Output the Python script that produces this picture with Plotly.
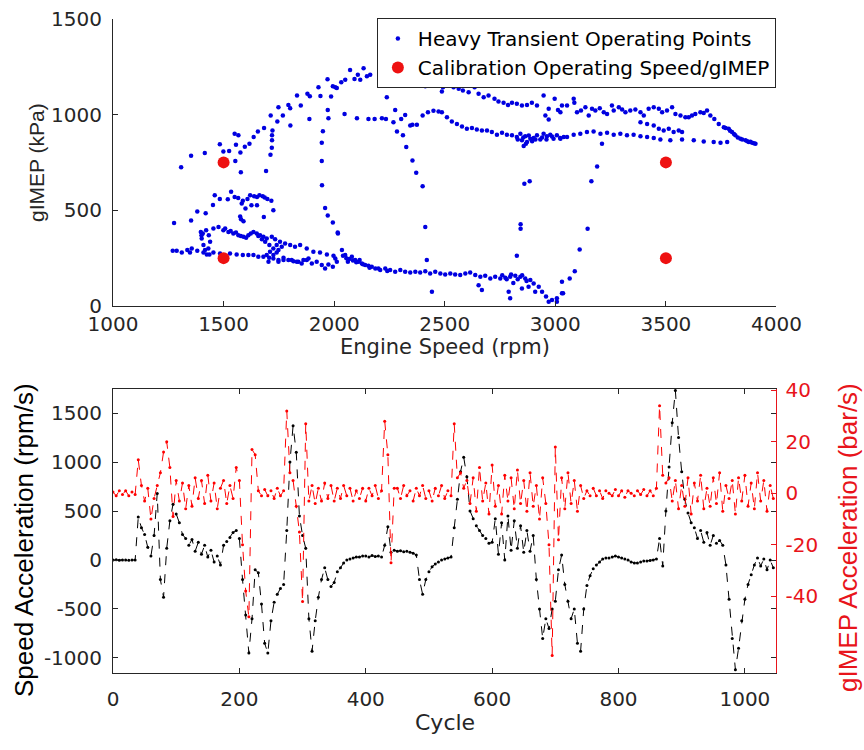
import plotly.graph_objects as go

# ---------------- Top panel data ----------------
speed_rpm = [
    # upper rising arc
    1308, 1353, 1415, 1483, 1499, 1525, 1553, 1550, 1567, 1556, 1578, 1576, 1596, 1617, 1636, 1655, 1683, 1692,
    1712, 1718, 1719, 1719, 1721, 1713, 1743, 1748, 1768, 1793, 1801, 1802, 1832, 1849, 1879, 1890, 1888, 1929,
    1938, 1970, 1971, 1974, 1949, 1944, 1944, 1945, 1959, 1971, 1994, 1986, 1994, 2012, 2016,
    # low-load upper cluster
    1276, 1353, 1381, 1400, 1419, 1460, 1452, 1483, 1519, 1534, 1550, 1566, 1587, 1608, 1620, 1638, 1651, 1662,
    1677, 1686, 1698, 1716, 1582, 1599, 1626, 1651, 1682, 1725, 1575, 1579, 1590,
    # dense band
    1397, 1401, 1409, 1416, 1424, 1431, 1439, 1433, 1421, 1406,
    1454, 1477, 1499, 1522, 1544, 1567, 1590, 1612, 1635, 1650, 1665, 1680, 1695, 1718, 1733, 1755, 1778, 1801,
    1823, 1846, 1876, 1906, 1936, 1967, 1997,
    1507, 1532, 1556, 1578, 1602, 1623, 1657, 1673, 1688, 1707, 1725, 1740, 1748, 1763, 1710, 1695, 1725, 1740,
    1771, 1793, 1816, 1838, 1861, 1884, 1748, 1703,
    # lower line
    1270, 1288, 1311, 1336, 1348, 1356, 1381, 1409, 1436, 1454, 1484, 1529, 1559, 1587, 1612, 1635, 1657, 1680,
    1706, 1725, 1748, 1771, 1808, 1831, 1853, 1876, 1899, 1921, 1944, 1959, 1974, 1994, 2012,
    # high-load arc 2000-3000
    2005, 2032, 2050, 2072, 2092, 2107, 2118, 2133, 2148, 2163, 2223, 2231, 2284, 2354, 2394, 2412, 2437, 2457,
    2487, 2492, 2517, 2540, 2563, 2582, 2608, 2635, 2653, 2676, 2698, 2725, 2743, 2766, 2786, 2804, 2826, 2849,
    2872, 2894, 2917, 2947, 2970, 2997, 3012, 3030, 2955, 2970,
    # middle band
    2047, 2103, 2155, 2183, 2216, 2234, 2268, 2284, 2321, 2344, 2354, 2374, 2400, 2424, 2449, 2472, 2487,
    2510, 2532, 2555, 2578, 2600, 2623, 2645, 2668, 2691, 2713, 2736, 2759, 2781, 2804, 2826, 2842, 2849, 2864,
    2872, 2887, 2902, 2917, 2932, 2947, 2962, 2977, 2992, 3007, 3022, 3038, 2857, 2867,
    2830, 2855, 2880, 2895, 2910, 2940, 2960, 2985,
    # descending / isolated points
    2238, 2276, 2303, 2311, 2326, 2354, 2371, 2400, 2412, 2419, 2017, 2860, 2884, 2843, 2843, 2826,
    # low-load band 2000-3000
    2005, 2035, 2050, 2062, 2080, 2095, 2110, 2125, 2140, 2155, 2170, 2186, 2208, 2231, 2253, 2276, 2299, 2321,
    2344, 2367, 2389, 2412, 2434, 2457, 2480, 2502, 2525, 2547, 2570, 2593, 2615, 2638, 2661, 2683, 2706, 2728,
    2751, 2774, 2796, 2819, 2842, 2864, 2887, 2902, 2925, 2940, 2958, 2970, 3007, 3030,
    2040, 2055, 2068, 2085, 2100, 2115, 2130, 2160, 2200, 2240, 2760, 2780, 2800, 2830, 2850, 2870, 2810,
    2442, 2653, 2668, 2789, 2796, 2849, 2879, 2909, 2985, 3007,
    # high-speed upper band
    3023, 3053, 3083, 3086, 3098, 3116, 3136, 3151, 3166, 3181, 3201, 3219, 3234, 3256, 3264, 3287, 3302, 3317,
    3339, 3362, 3385, 3400, 3422, 3445, 3468, 3483, 3505, 3528, 3543, 3566, 3588, 3603, 3618, 3633, 3656, 3671,
    3686, 3701, 3719, 3739, 3762, 3784, 3799, 3814, 3837, 3860, 3875, 3890, 3905,
    3770, 3790, 3808, 3825, 3845, 3868, 3882, 3898,
    # high-speed middle band
    3023, 3053, 3083, 3113, 3143, 3173, 3204, 3234, 3264, 3294, 3324, 3354, 3385, 3415, 3445, 3475, 3520, 3573,
    3626, 3671, 3716, 3747, 3777, 3211,
    # intermediate
    3385, 3415, 3445, 3468, 3490, 3513, 3535, 3558, 3573,
    # vertical rise near 3000-3200
    3189, 3163, 3146, 3110, 3088, 3065, 3030, 3035,
]
gimep_kpa = [
    724, 785, 799, 845, 807, 809, 757, 899, 891, 842, 698, 802, 832, 847, 882, 911, 929, 705,
    790, 826, 865, 891, 917, 995, 964, 1038, 995, 1050, 1033, 943, 1099, 1047, 1109, 1095, 977, 1142,
    1097, 1184, 1023, 981, 913, 852, 757, 630, 512, 472, 436, 1094, 1147, 1139, 384,
    434, 446, 493, 370, 484, 578, 528, 559, 557, 596, 569, 564, 549, 559, 578, 573, 569, 578,
    573, 566, 559, 550, 535, 509, 526, 526, 465, 500, 467, 453, 443,
    387, 352, 318, 292, 269, 300, 335, 370, 396, 378,
    405, 413, 396, 387, 378, 370, 361, 370, 387, 378, 370, 361, 352, 361, 349, 335, 326, 318,
    309, 318, 300, 283, 279, 269, 262,
    405, 391, 384, 366, 356, 378, 366, 349, 335, 318, 300, 318, 292, 309, 283, 266, 266, 279,
    240, 240, 234, 231, 240, 248, 231, 231,
    288, 288, 280, 292, 280, 300, 288, 280, 269, 280, 274, 274, 269, 266, 266, 266, 257, 257,
    252, 248, 240, 252, 240, 231, 222, 240, 222, 231, 214, 196, 217, 205, 231,
    1142, 1168, 1181, 1233, 1186, 1207, 1181, 1241, 1200, 1207, 1160, 1175, 1155, 1151, 1168, 1148, 1181, 1172,
    1120, 1142, 1156, 1142, 1134, 1125, 1116, 1142, 1108, 1090, 1099, 1082, 1068, 1061, 1050, 1061, 1056, 1047,
    1050, 1061, 1047, 1099, 1030, 1082, 1024, 1047, 995, 974,
    1003, 981, 977, 977, 981, 977, 960, 911, 998, 943, 946, 946, 995, 1012, 1019, 1016, 1012,
    986, 963, 951, 937, 925, 929, 922, 917, 917, 908, 894, 905, 894, 891, 882, 899, 865, 887,
    856, 873, 877, 891, 870, 899, 887, 894, 873, 891, 877, 882, 835, 847,
    870, 880, 890, 860, 870, 880, 870, 885,
    1090, 1024, 977, 891, 830, 760, 696, 625, 413, 240, 378, 639, 651, 427, 404, 262,
    248, 292, 266, 231, 257, 240, 231, 222, 214, 210, 205, 196, 188, 196, 188, 179, 188, 179,
    175, 179, 175, 182, 170, 179, 170, 165, 170, 165, 162, 170, 175, 162, 153, 158, 144, 153,
    144, 148, 153, 158, 153, 144, 136, 118, 101, 75, 49, 22, 40, 66,
    262, 250, 245, 238, 228, 240, 218, 200, 196, 183, 160, 140, 165, 140, 160, 130, 120,
    75, 109, 83, 75, 40, 92, 101, 75, 31, 22,
    1012, 1047, 1082, 1061, 1012, 1021, 1038, 995, 1030, 1021, 1033, 1012, 1003, 1047, 1021, 1038, 1026, 1012,
    1021, 1026, 1012, 995, 1030, 1038, 1030, 1012, 1021, 1038, 1003, 995, 986, 986, 995, 1003, 1012, 1008,
    1021, 995, 977, 951, 934, 925, 908, 891, 873, 865, 856, 852, 847,
    930, 915, 898, 880, 870, 860, 858, 850,
    873, 882, 894, 899, 908, 911, 899, 905, 894, 899, 891, 894, 887, 882, 877, 870, 865, 870,
    865, 859, 856, 852, 856, 847,
    960, 951, 943, 925, 917, 925, 908, 917, 908,
    729, 651, 404, 295, 182, 144, 127, 66,
]
calib_speed = [1500, 1500, 3500, 3500]
calib_gimep = [750, 250, 750, 250]
top_xticks = [1000, 1500, 2000, 2500, 3000, 3500, 4000]
top_yticks = [0, 500, 1000, 1500]

# ---------------- Bottom panel data (every 5th cycle) ----------------
cycles = list(range(0, 1050, 5))
speed_acc = [
    0, 2, -3, 1, 0, -2, 1, 0, 440, 330,
    260, 130, 40, 250, 680, -200, -380, 120, 400, 570,
    470, 380, 260, 220, 150, 210, 90, 180, 60, 150,
    30, 100, -20, 40, -50, 150, 190, 230, 280, 300,
    220, -200, -560, -950, -600, -100, -130, -450, -850, -950,
    -620, -430, -350, -290, -250, 300, 1000, 1370, 1100, 450,
    250, 120, -600, -930, -620, -380, -200, -80, -200, -270,
    -230, -120, -80, -30, 0, 10, 20, 30, 30, 40,
    40, 30, 45, 35, 40, 30, 150, 340, 80, 100,
    90, 95, 85, 90, 80, 70, 50, -200, -350, -200,
    -120, -70, -40, -20, 0, 10, 20, 30, 330, 620,
    900, 1050, 850, 500, 420, 350, 300, 250, 220, 170,
    180, 420, 60, 380, 0, 450, 100, 400, 120, 350,
    80, 300, 90, 250, -200, -500, -800, -600, -700, -500,
    -420, -100, 50, -250, -420, -600, -500, -850, -930, -500,
    -260, -160, -90, -50, -20, 10, 20, 20, 30, 40,
    30, 20, 10, 0, -20, -30, -30, -20, -10, -10,
    -5, 0, 10, 220, -60, 500, 950, 1400, 1730, 1250,
    900, 620, 480, 380, 330, 220, 300, 180, 280, 150,
    250, 170, 200, 150, -50, -400, -800, -1120, -900, -620,
    -400, -250, -150, -50, 20, -60, 10, -100, 0, -80,
]
gimep_acc = [
    0.5, -1, 1, -0.5, 1, -1, 0.5, -0.5, 13, 3,
    -3, 2, -10, -2, 3, 8, 16, 20, 10, -9,
    5, -3, 4, -6, 3, -5, 6, -2, 5, -4,
    7, -3, 4, -6, 2, 5, -4, 3, -2, 10,
    5, -20, -38, -48, 17, 15, 1, -1, 1.5, -1,
    1, -2, 2, -1, 1, 32, 8, 5, -5, -15,
    -42, 27, -3, 3, -4, 2, -3, 4, -2, 3,
    -3, 2, -2, 3, -1, 2, -3, 1, -2, 2,
    -3, 2, -1, 3, -2, 1, 28, 15, -27, 2,
    2, -2, 3, -1, 1, -3, 2, -1, 3, -2,
    1, -3, 2, -1, 3, -2, 1, -1, 27, 6,
    8, 2, 5, -4, 6, -7, 10, -3, 4, -8,
    11, -5, 3, -8, 7, -3, 6, -6, 9, -4,
    5, -7, 8, -5, 3, -10, 6, -4, -20, -63,
    18, -18, 6, -6, 8, -4, 5, -7, 3, -2,
    1, -1, 2, -1, 1, -2, 1, 0, -1, 1.5,
    -1, 1, -1.5, 1, 0, -1, 1, -0.5, 1.5, -1,
    1, -1, 2, 34, 7, 4, 6, -3, 5, -6,
    3, -5, 6, -8, 4, -3, 7, -6, 2, -5,
    6, -4, 8, -7, 3, -2, 5, -8, 6, -3,
    7, -5, 4, -6, 8, -3, 5, -7, 3, -2,
]
cycle_ticks = [0, 200, 400, 600, 800, 1000]
speed_ticks = [-1000, -500, 0, 500, 1000, 1500]
gimep_ticks = [-40, -20, 0, 20, 40]

HFONT = "DejaVu Sans, Liberation Sans, sans-serif"   # horizontal text (wide)
VFONT = "Liberation Sans, Arial, sans-serif"         # rotated text
AX = "#262626"
RED = "#e8141b"

fig = go.Figure()
fig.add_trace(go.Scatter(
    x=speed_rpm, y=gimep_kpa, mode="markers", name="Heavy Transient Operating Points",
    marker=dict(color="#0000e0", size=4.5), xaxis="x", yaxis="y"))
fig.add_trace(go.Scatter(
    x=calib_speed, y=calib_gimep, mode="markers", name="Calibration Operating Speed/gIMEP",
    marker=dict(color="#ee1111", size=12), xaxis="x", yaxis="y"))
fig.add_trace(go.Scatter(
    x=cycles, y=speed_acc, mode="lines+markers", showlegend=False,
    line=dict(color="black", width=1, dash="dash"), marker=dict(color="black", size=3),
    xaxis="x2", yaxis="y2"))
fig.add_trace(go.Scatter(
    x=cycles, y=gimep_acc, mode="lines+markers", showlegend=False,
    line=dict(color="#ff0000", width=1, dash="dash"), marker=dict(color="#ff0000", size=3),
    xaxis="x2", yaxis="y3"))

common = dict(showgrid=False, zeroline=False, ticks="inside", ticklen=5, tickwidth=1,
              showline=True, linewidth=1, linecolor=AX, tickcolor=AX,
              tickfont=dict(family=HFONT, size=20, color=AX), automargin=False)
XD = [0.1308, 0.8987]

fig.update_layout(
    width=864, height=750, margin=dict(l=0, r=0, t=0, b=0),
    paper_bgcolor="white", plot_bgcolor="white",
    font=dict(family=HFONT, color=AX),
    xaxis=dict(domain=XD, range=[1000, 4000], anchor="y", tickvals=top_xticks,
               ticklabelstandoff=0, **common),
    yaxis=dict(domain=[0.592, 0.975], range=[0, 1500], anchor="x", tickvals=top_yticks,
               ticklabelstandoff=6, **common),
    xaxis2=dict(domain=XD, range=[0, 1050], anchor="y2", tickvals=cycle_ticks, mirror="ticks",
                ticklabelstandoff=8, **common),
    yaxis2=dict(domain=[0.1027, 0.4813], range=[-1153, 1745], anchor="x2", tickvals=speed_ticks,
                ticktext=[str(v) for v in speed_ticks], mirror="ticks", ticklabelstandoff=6, **common),
    yaxis3=dict(range=[-69.8, 40.5], overlaying="y2", anchor="x2", side="right",
                tickvals=gimep_ticks, ticktext=[str(v) for v in gimep_ticks],
                showgrid=False, zeroline=False, ticks="inside", ticklen=5, tickwidth=1,
                showline=True, linewidth=1, linecolor=RED, tickcolor=RED,
                tickfont=dict(family=HFONT, size=20, color=RED), ticklabelstandoff=4, automargin=False),
    legend=dict(x=0.898, xanchor="right", y=0.976, yanchor="top", bgcolor="white",
                bordercolor=AX, borderwidth=1, font=dict(family=HFONT, size=20, color="black"),
                itemwidth=30, tracegroupgap=0),
    annotations=[
        dict(text="gIMEP (kPa)", x=36 / 864, y=1 - 163 / 750, xref="paper", yref="paper",
             textangle=-90, showarrow=False, font=dict(family=VFONT, size=21, color=AX),
             xanchor="center", yanchor="middle"),
        dict(text="Engine Speed (rpm)", x=445 / 864, y=1 - 347 / 750, xref="paper", yref="paper",
             showarrow=False, font=dict(family=HFONT, size=21, color=AX), xanchor="center", yanchor="middle"),
        dict(text="Speed Acceleration (rpm/s)", x=24 / 864, y=1 - 540 / 750, xref="paper", yref="paper",
             textangle=-90, showarrow=False, font=dict(family=VFONT, size=26, color="black"),
             xanchor="center", yanchor="middle"),
        dict(text="gIMEP Acceleration (bar/s)", x=848 / 864, y=1 - 538 / 750, xref="paper", yref="paper",
             textangle=-90, showarrow=False, font=dict(family=VFONT, size=26, color=RED),
             xanchor="center", yanchor="middle"),
        dict(text="Cycle", x=445 / 864, y=1 - 722 / 750, xref="paper", yref="paper",
             showarrow=False, font=dict(family=HFONT, size=22, color=AX), xanchor="center", yanchor="middle"),
    ],
)

fig.write_html("out.html")
